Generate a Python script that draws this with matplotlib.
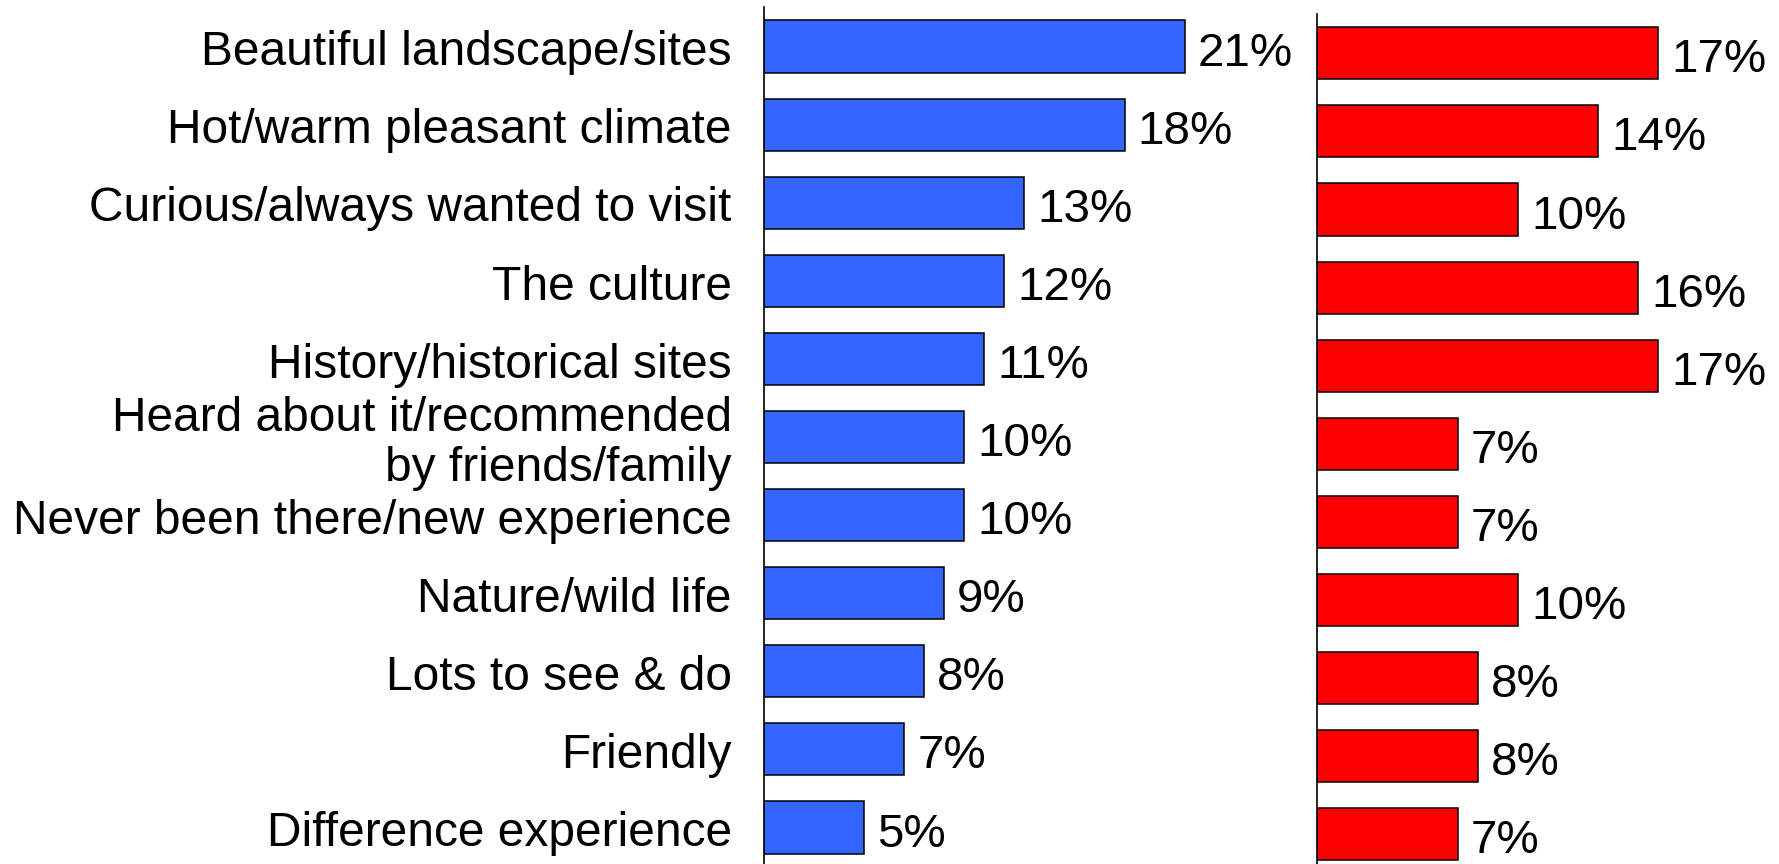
import matplotlib.pyplot as plt

# --- Reasons for choosing the destination: two groups side by side ---

reasons = [
    "Beautiful landscape/sites",
    "Hot/warm pleasant climate",
    "Curious/always wanted to visit",
    "The culture",
    "History/historical sites",
    "Heard about it/recommended\nby friends/family",
    "Never been there/new experience",
    "Nature/wild life",
    "Lots to see & do",
    "Friendly",
    "Difference experience",
]
left_pct = [21, 18, 13, 12, 11, 10, 10, 9, 8, 7, 5]
right_pct = [17, 14, 10, 16, 17, 7, 7, 10, 8, 8, 7]

blue = "#3366FF"
red = "#FF0000"

plt.rcParams['font.family'] = ['Liberation Sans', 'DejaVu Sans']

W, H = 1779, 864
fig = plt.figure(figsize=(W / 100, H / 100), dpi=100)

px_per_pct = 20.05   # same scale on both panels
row_px = 78.1        # spacing of the bars


def make_axes(x0, top_px, width_px):
    # axes placed in pixels, then converted to figure fractions
    height_px = row_px * 11
    ax = fig.add_axes([x0 / W, 1 - (top_px + height_px) / H, width_px / W, height_px / H])
    ax.set_xlim(0, width_px / px_per_pct)
    ax.set_ylim(10.5, -0.5)
    for side in ["top", "right", "bottom"]:
        ax.spines[side].set_visible(False)
    ax.spines["left"].set_linewidth(1.2)
    ax.tick_params(length=0)
    ax.set_xticks([])
    ax.set_yticks([])
    return ax


ax1 = make_axes(763.6, 46.5 - row_px / 2, 500)
ax2 = make_axes(1317.3, 53.3 - row_px / 2, 440)

y = list(range(len(reasons)))
bar_h = 0.666

ax1.barh(y, left_pct, height=bar_h, color=blue, edgecolor="black", linewidth=1.1)
ax2.barh(y, right_pct, height=bar_h, color=red, edgecolor="black", linewidth=1.1)

for ax, vals in [(ax1, left_pct), (ax2, right_pct)]:
    for i, v in enumerate(vals):
        ax.annotate(f"{v}%", xy=(v, i), xytext=(9.5, -1.5), textcoords="offset points",
                    va="center_baseline", ha="left", fontsize=34.2)

# category names to the left of the blue panel
for i, name in enumerate(reasons):
    ax1.annotate(name, xy=(0, i), xycoords=("axes fraction", "data"),
                 xytext=(-23, -4.5), textcoords="offset points",
                 ha="right", va="center", fontsize=34.5, linespacing=1.15)

fig.savefig("out.png", dpi=100)
